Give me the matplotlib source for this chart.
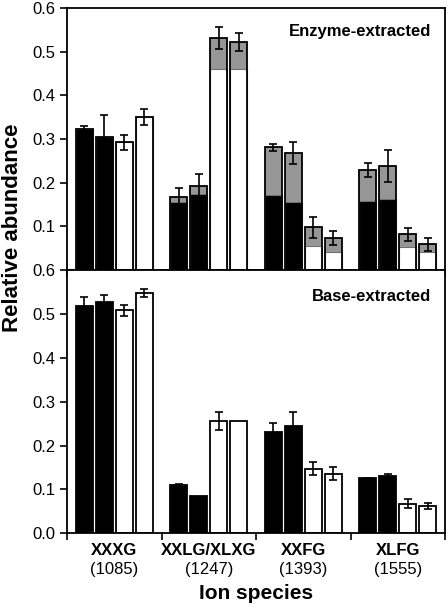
import matplotlib.pyplot as plt
import numpy as np

plt.rcParams['font.family'] = ['Liberation Sans', 'DejaVu Sans']

groups = ['XXXG', 'XXLG/XLXG', 'XXFG', 'XLFG']
masses = ['(1085)', '(1247)', '(1393)', '(1555)']

# enzyme-extracted: lower (solid/white) part, total height, error
enz_low = [[0.324, 0.305, 0.292, 0.351],
           [0.156, 0.174, 0.460, 0.461],
           [0.172, 0.155, 0.056, 0.042],
           [0.159, 0.162, 0.053, 0.042]]
enz_tot = [[0.324, 0.305, 0.292, 0.351],
           [0.168, 0.193, 0.532, 0.522],
           [0.281, 0.268, 0.098, 0.073],
           [0.230, 0.238, 0.082, 0.059]]
enz_err = [[0.005, 0.050, 0.017, 0.018],
           [0.019, 0.026, 0.025, 0.021],
           [0.008, 0.025, 0.024, 0.016],
           [0.016, 0.037, 0.015, 0.015]]

# base-extracted
base_val = [[0.519, 0.527, 0.508, 0.548],
            [0.110, 0.086, 0.256, 0.256],
            [0.231, 0.245, 0.147, 0.136],
            [0.126, 0.131, 0.067, 0.062]]
base_err = [[0.020, 0.016, 0.013, 0.009],
            [0.002, 0.0, 0.020, 0.0],
            [0.020, 0.031, 0.015, 0.015],
            [0.001, 0.005, 0.010, 0.006]]

bar_colors = ['black', 'black', 'white', 'white']
offsets = [-0.317, -0.106, 0.106, 0.317]
width = 0.176
gray = '#969696'

fig = plt.figure(figsize=(4.48, 6.11), dpi=100)
ax1 = fig.add_axes([0.1496, 0.5581, 0.8437, 0.4288])
ax2 = fig.add_axes([0.1496, 0.1272, 0.8437, 0.4309])

for g in range(4):
    for b in range(4):
        x = g + offsets[b]
        low = enz_low[g][b]
        tot = enz_tot[g][b]
        ax1.bar(x, low, width, color=bar_colors[b], edgecolor='#707070', linewidth=0.8)
        if tot > low:
            ax1.bar(x, tot - low, width, bottom=low, color=gray, edgecolor='none')
        ax1.bar(x, tot, width, fill=False, edgecolor='black', linewidth=1.3)
        ax1.errorbar(x, tot, yerr=enz_err[g][b], color='black', elinewidth=1.2,
                     capsize=3, capthick=1.2, fmt='none')

        bv = base_val[g][b]
        ax2.bar(x, bv, width, color=bar_colors[b], edgecolor='black', linewidth=1.3)
        if base_err[g][b] > 0:
            ax2.errorbar(x, bv, yerr=base_err[g][b], color='black', elinewidth=1.2,
                         capsize=3, capthick=1.2, fmt='none')

for ax in (ax1, ax2):
    ax.set_xlim(-0.5, 3.5)
    ax.set_ylim(0, 0.6)
    for s in ax.spines.values():
        s.set_linewidth(1.3)
    ax.set_xticks([-0.5, 0.5, 1.5, 2.5, 3.5])
    ax.set_xticklabels([])
    ax.tick_params(axis='both', direction='out', length=5, width=1.2, labelsize=12)

ax1.set_yticks([0.1, 0.2, 0.3, 0.4, 0.5, 0.6])
ax1.set_yticklabels(['0.1', '0.2', '0.3', '0.4', '0.5', '0.6'])
ax2.set_yticks([0.0, 0.1, 0.2, 0.3, 0.4, 0.5, 0.6])
ax2.set_yticklabels(['0.0', '0.1', '0.2', '0.3', '0.4', '0.5', '0.6'])

ax1.text(0.963, 0.912, 'Enzyme-extracted', transform=ax1.transAxes, ha='right',
         va='center', fontsize=12, fontweight='bold')
ax2.text(0.962, 0.899, 'Base-extracted', transform=ax2.transAxes, ha='right',
         va='center', fontsize=12, fontweight='bold')

trans = ax2.get_xaxis_transform()
for g in range(4):
    ax2.text(g, -0.067, groups[g], transform=trans, ha='center', va='center',
             fontsize=12, fontweight='bold')
    ax2.text(g, -0.139, masses[g], transform=trans, ha='center', va='center',
             fontsize=12)
ax2.text(1.5, -0.227, 'Ion species', transform=trans, ha='center', va='center',
         fontsize=15, fontweight='bold')

fig.text(0.027, 0.627, 'Relative abundance', rotation=90, ha='center', va='center',
         fontsize=16, fontweight='bold')

fig.savefig('out.png', dpi=100)
